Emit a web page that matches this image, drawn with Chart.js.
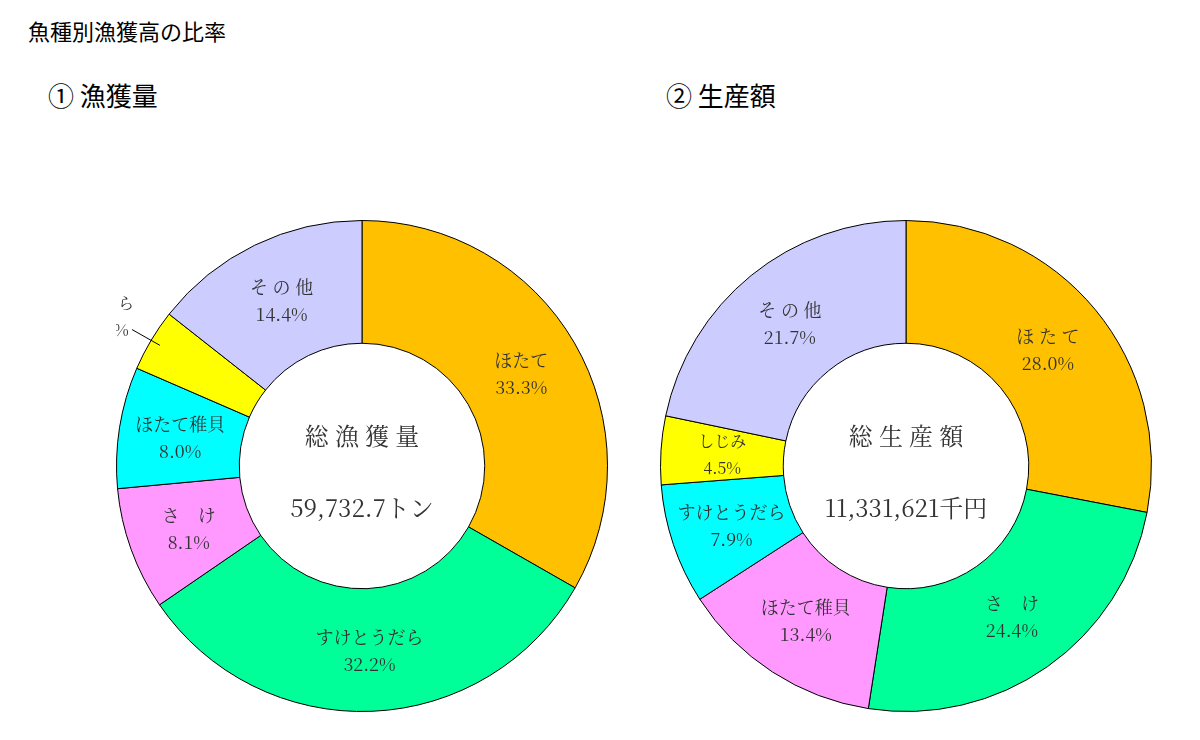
<!DOCTYPE html>
<html><head><meta charset="utf-8">
<script src="https://cdn.jsdelivr.net/npm/chart.js@4/dist/chart.umd.min.js"></script>
<style>
body{margin:0;width:1200px;height:740px;background:#fff;position:relative;font-family:"Noto Sans CJK JP",sans-serif;overflow:hidden}
.t{position:absolute;color:#000;white-space:nowrap}
.box{position:absolute;width:492px;height:492px;top:220px}
</style></head><body>
<div class="t" style="left:28px;top:14px;font-size:22px">魚種別漁獲高の比率</div>
<div class="t" style="left:48px;top:76px;font-size:26px">① 漁獲量</div>
<div class="t" style="left:666px;top:76px;font-size:26px">② 生産額</div>
<div class="box" style="left:116px"><canvas id="c1"></canvas></div>
<div class="box" style="left:660px"><canvas id="c2"></canvas></div>
<script>
// 漁獲量
var catchLabels = ['ほたて', 'すけとうだら', 'さ　け', 'ほたて稚貝', 'た　ら', 'そ の 他'];
var catchValues = [33.3, 32.2, 8.1, 8.0, 4.1, 14.4];
var catchColors = ['#FFC000', '#00FF99', '#FF99FF', '#00FFFF', '#FFFF00', '#CCCCFF'];
// 生産額
var valueLabels = ['ほ た て', 'さ　け', 'ほたて稚貝', 'すけとうだら', 'しじみ', 'そ の 他'];
var valueValues = [28.0, 24.4, 13.4, 7.9, 4.5, 21.7];
var valueColors = ['#FFC000', '#00FF99', '#FF99FF', '#00FFFF', '#FFFF00', '#CCCCFF'];

var labelFont = '"Noto Serif CJK JP","DejaVu Serif","Liberation Serif","Noto Sans CJK JP",serif';

var sliceLabels = {
    id: 'sliceLabels',
    afterDraw: function (chart, args, opts) {
        var ctx = chart.ctx;
        var meta = chart.getDatasetMeta(0);
        var data = chart.data.datasets[0].data;
        ctx.save();
        ctx.fillStyle = '#333';
        ctx.textAlign = 'center';
        ctx.textBaseline = 'middle';
        meta.data.forEach(function (arc, i) {
            var p = arc.getProps(['x', 'y', 'startAngle', 'endAngle', 'innerRadius', 'outerRadius']);
            var a = (p.startAngle + p.endAngle) / 2;
            var r = (p.innerRadius + p.outerRadius) / 2;
            var out = opts.outside === i;
            if (out) r = p.outerRadius + 48;
            var x = p.x + Math.cos(a) * r, y = p.y + Math.sin(a) * r;
            if (out) {
                ctx.strokeStyle = '#000';
                ctx.lineWidth = 1;
                ctx.beginPath();
                ctx.moveTo(x + 22, y + 14);
                ctx.lineTo(p.x + Math.cos(a) * (p.outerRadius - 10), p.y + Math.sin(a) * (p.outerRadius - 10));
                ctx.stroke();
            }
            var small = data[i] < 6;
            ctx.font = (small ? 16 : 18) + 'px ' + labelFont;
            ctx.fillText(chart.data.labels[i], x, y - 13);
            ctx.fillText(data[i].toFixed(1) + '%', x, y + 14);
        });
        ctx.font = '24px ' + labelFont;
        ctx.fillStyle = '#333';
        var cx = meta.data[0].x, cy = meta.data[0].y;
        ctx.fillText(opts.center[0], cx, cy - 30);
        ctx.fillText(opts.center[1], cx, cy + 42);
        ctx.restore();
    }
};

function makeDonut(id, labels, values, colors, center, outside) {
    return new Chart(document.getElementById(id), {
        type: 'doughnut',
        data: {
            labels: labels,
            datasets: [{ data: values, backgroundColor: colors, borderColor: '#000', borderWidth: 1 }]
        },
        options: {
            responsive: true,
            maintainAspectRatio: false,
            animation: false,
            cutout: '50%',
            plugins: {
                legend: { display: false },
                tooltip: { enabled: false },
                sliceLabels: { center: center, outside: outside }
            }
        },
        plugins: [sliceLabels]
    });
}

makeDonut('c1', catchLabels, catchValues, catchColors, ['総 漁 獲 量', '59,732.7トン'], 4);
makeDonut('c2', valueLabels, valueValues, valueColors, ['総 生 産 額', '11,331,621千円'], -1);
</script>
</body></html>
